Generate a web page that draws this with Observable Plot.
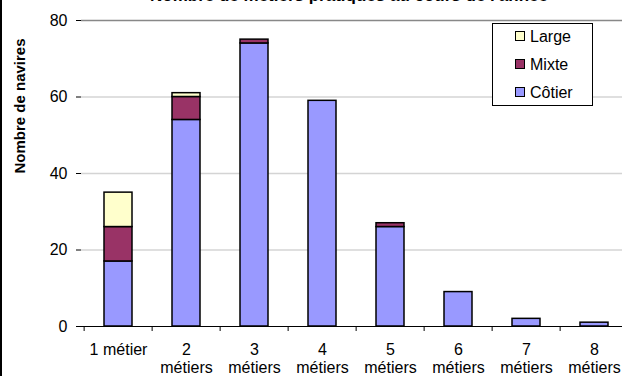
<!DOCTYPE html>
<html><head><meta charset="utf-8">
<script src="https://cdn.jsdelivr.net/npm/d3@7"></script>
<script src="https://cdn.jsdelivr.net/npm/@observablehq/plot@0.6"></script>
<style>
html,body{margin:0;padding:0;background:#fff;overflow:hidden;}
#wrap{position:relative;width:622px;height:376px;overflow:hidden;font-family:Arial,"Liberation Sans",sans-serif;background:#fff;}
#title{position:absolute;top:0;left:0;}
#chart{position:absolute;top:0;left:0;width:631px;height:376px;}
#chart svg{max-width:none !important;width:631px;height:376px;}
#border{position:absolute;left:0;top:0;width:2px;height:376px;background:#000;}
#legend{position:absolute;left:492px;top:23px;width:101px;height:83px;border:1px solid #000;background:#fff;box-sizing:border-box;}
.item{position:absolute;left:22px;font-size:16px;line-height:16px;color:#000;}
.sw{display:inline-block;width:8px;height:8px;border:1px solid #000;margin-right:5px;vertical-align:1px;}
</style>
</head><body>
<div id="wrap">
  <div id="chart"></div>
  <svg id="title" width="622" height="10"><text x="150" y="1" font-family="Arial, 'Liberation Sans', sans-serif" font-weight="bold" font-size="17" fill="#000">Nombre de métiers pratiqués au cours de l'année</text></svg>
  <div id="border"></div>
  <div id="legend"></div>
</div>
<script>
const categories = ["1 métier","2 métiers","3 métiers","4 métiers","5 métiers","6 métiers","7 métiers","8 métiers"];
const tickLabels = ["1 métier","2\nmétiers","3\nmétiers","4\nmétiers","5\nmétiers","6\nmétiers","7\nmétiers","8\nmétiers"];
const cotier = [17, 54, 74, 59, 26, 9, 2, 1];
const mixte  = [9, 6, 1, 0, 1, 0, 0, 0];
const large  = [9, 1, 0, 0, 0, 0, 0, 0];
const seriesNames = ["Côtier","Mixte","Large"];
const seriesColors = ["#9999FF","#993366","#FFFFCC"];
const yTicks = [0,20,40,60,80];

const rows = [];
categories.forEach((c,i)=>{
  rows.push({cat:c, serie:"Côtier", v:cotier[i]});
  rows.push({cat:c, serie:"Mixte", v:mixte[i]});
  rows.push({cat:c, serie:"Large", v:large[i]});
});
const nonzero = rows.filter(d=>d.v>0);

const chart = Plot.plot({
  width: 631, height: 376,
  marginLeft: 81, marginRight: 0, marginTop: 20, marginBottom: 50,
  style: {fontFamily: "Arial, 'Liberation Sans', sans-serif", fontSize: "15px", color: "#000", background: "transparent", maxWidth: "none"},
  x: {domain: categories, paddingInner: 0.59, paddingOuter: 0.295, axis: null},
  y: {domain: [0,80], axis: null},
  color: {domain: seriesNames, range: seriesColors},
  marks: [
    Plot.ruleY(yTicks.filter(t=>t>0 && t<80), {stroke:"#d4d4d4", strokeWidth:1.5}),
    Plot.ruleY([80], {stroke:"#888", strokeWidth:1.5}),
    Plot.barY(nonzero, Plot.stackY({x:"cat", y:"v", fill:"serie", order: seriesNames, stroke:"#000", strokeWidth:1.5})),
    Plot.ruleX([0], {y1: 0, y2: 80, frameAnchor:"left", stroke:"#000", strokeWidth:1.2}),
    Plot.ruleY([0], {stroke:"#000", strokeWidth:1.2}),
    Plot.axisY({ticks: yTicks, tickSize: 5, tickPadding: 9, fontSize: 16, label: null, stroke:"#000"}),
    Plot.ruleX(categories, {x: d=>d, y1: 0, y2: 0, insetBottom: -5, dx: -34.375, stroke:"#000"}),
    Plot.text(categories, {x: d=>d, y: 0, text: (d,i)=>tickLabels[i], lineAnchor:"top", dy: 15, lineHeight: 1.15, fontSize: 16}),
    Plot.text(["Nombre de navires"], {frameAnchor:"left", text: d=>d, rotate:-90, dx:-61, fontWeight:"bold", fontSize: 15})
  ]
});
document.getElementById("chart").appendChild(chart);

const legend = document.getElementById("legend");
["Large","Mixte","Côtier"].forEach((name,k)=>{
  const idx = seriesNames.indexOf(name);
  const it = document.createElement("div");
  it.className = "item";
  it.style.top = (5 + k*28) + "px";
  it.innerHTML = `<span class="sw" style="background:${seriesColors[idx]}"></span>${name}`;
  legend.appendChild(it);
});
</script>
</body></html>
